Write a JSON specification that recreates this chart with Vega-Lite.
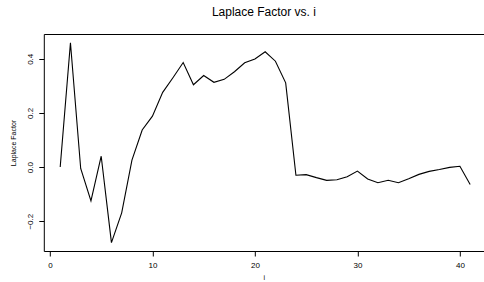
{
  "$schema": "https://vega.github.io/schema/vega-lite/v6.json",
  "autosize": "none",
  "padding": {"left": 43.8, "top": 34, "right": 0, "bottom": 31},
  "width": 440.2,
  "height": 217,
  "background": "white",
  "config": {
    "view": {"stroke": null},
    "font": "Liberation Sans",
    "axis": {"grid": false, "domainColor": "black", "tickColor": "black", "labelColor": "black", "titleColor": "black", "domainWidth": 1, "tickWidth": 1}
  },
  "title": {"text": "Laplace Factor vs. i", "fontSize": 12, "fontWeight": "normal", "font": "Liberation Sans", "color": "black", "anchor": "middle", "offset": 15},
  "data": {"values": [
    {"i": 1, "lf": 0.0},
    {"i": 2, "lf": 0.459},
    {"i": 3, "lf": -0.005},
    {"i": 4, "lf": -0.125},
    {"i": 5, "lf": 0.04},
    {"i": 6, "lf": -0.279},
    {"i": 7, "lf": -0.169},
    {"i": 8, "lf": 0.026},
    {"i": 9, "lf": 0.137},
    {"i": 10, "lf": 0.188},
    {"i": 11, "lf": 0.276},
    {"i": 12, "lf": 0.33},
    {"i": 13, "lf": 0.386},
    {"i": 14, "lf": 0.304},
    {"i": 15, "lf": 0.338},
    {"i": 16, "lf": 0.313},
    {"i": 17, "lf": 0.324},
    {"i": 18, "lf": 0.352},
    {"i": 19, "lf": 0.385},
    {"i": 20, "lf": 0.399},
    {"i": 21, "lf": 0.426},
    {"i": 22, "lf": 0.391},
    {"i": 23, "lf": 0.311},
    {"i": 24, "lf": -0.030},
    {"i": 25, "lf": -0.028},
    {"i": 26, "lf": -0.039},
    {"i": 27, "lf": -0.049},
    {"i": 28, "lf": -0.047},
    {"i": 29, "lf": -0.036},
    {"i": 30, "lf": -0.015},
    {"i": 31, "lf": -0.044},
    {"i": 32, "lf": -0.058},
    {"i": 33, "lf": -0.049},
    {"i": 34, "lf": -0.058},
    {"i": 35, "lf": -0.043},
    {"i": 36, "lf": -0.027},
    {"i": 37, "lf": -0.016},
    {"i": 38, "lf": -0.009},
    {"i": 39, "lf": -0.001},
    {"i": 40, "lf": 0.003},
    {"i": 41, "lf": -0.064}
  ]},
  "resolve": {"axis": {"x": "independent"}},
  "layer": [
    {
      "mark": {"type": "line", "color": "black", "strokeWidth": 1.1},
      "encoding": {
        "x": {"field": "i", "type": "quantitative", "scale": {"domain": [-0.6, 42.35], "nice": false, "zero": false},
          "axis": {"orient": "bottom", "values": [0, 10, 20, 30, 40], "title": "i", "titleFontSize": 7, "titleFontWeight": "normal", "titlePadding": 4, "labelFontSize": 8, "labelPadding": 5, "tickSize": 5, "labelFlush": false}},
        "y": {"field": "lf", "type": "quantitative", "scale": {"domain": [-0.31, 0.4915], "nice": false, "zero": false},
          "axis": {"values": [-0.2, 0, 0.2, 0.4], "format": ".1f", "title": "Laplace Factor", "titleFontSize": 7, "titleFontWeight": "normal", "titlePadding": 10, "labelFontSize": 8, "labelAngle": -90, "labelAlign": "center", "labelBaseline": "bottom", "labelPadding": 4, "tickSize": 5, "labelFlush": false}}
      }
    },
    {
      "mark": {"type": "line", "opacity": 0},
      "encoding": {
        "x": {"field": "i", "type": "quantitative", "axis": {"orient": "top", "ticks": false, "labels": false, "title": null, "domain": true}}
      }
    }
  ]
}
